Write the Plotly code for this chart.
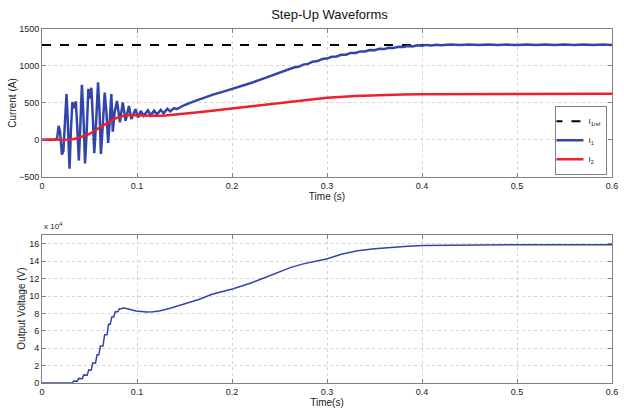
import plotly.graph_objects as go
from plotly.subplots import make_subplots

# ---- current waveforms (A) ----
t_ref = [0.0, 0.6]
i1_ref = [1285, 1285]

t_i1 = [0.0, 0.014, 0.016, 0.0175, 0.019, 0.021, 0.0225, 0.0245, 0.0258, 0.027,
        0.029, 0.0305, 0.032, 0.0338, 0.0356, 0.037, 0.0388, 0.0405, 0.042, 0.0437,
        0.0453, 0.047, 0.0488, 0.0503, 0.052, 0.0535, 0.055, 0.057, 0.059, 0.0605,
        0.062, 0.064, 0.066, 0.0678, 0.0696, 0.0713, 0.073, 0.0745, 0.0765, 0.079,
        0.082, 0.085, 0.088, 0.0915, 0.094, 0.0984, 0.101, 0.104, 0.107, 0.1115,
        0.1145, 0.118, 0.121, 0.125, 0.128, 0.132, 0.135, 0.139, 0.142, 0.146,
        0.15, 0.16, 0.17, 0.18, 0.19, 0.2, 0.21, 0.22, 0.23, 0.24, 0.25,
        0.26, 0.265, 0.27, 0.275, 0.28, 0.285, 0.29, 0.295, 0.30, 0.305,
        0.31, 0.315, 0.32, 0.325, 0.33, 0.335, 0.34, 0.345, 0.35, 0.355,
        0.36, 0.365, 0.37, 0.375, 0.38, 0.385, 0.39, 0.395, 0.40, 0.405,
        0.41, 0.415, 0.42, 0.43, 0.44, 0.45, 0.46, 0.47, 0.48, 0.49,
        0.50, 0.51, 0.52, 0.53, 0.54, 0.55, 0.56, 0.57, 0.58, 0.59, 0.6]
i1 = [0, 0, 30, 190, 110, -200, -150, 420, 620, 300,
      -390, 150, 510, 430, 520, 200, -280, 250, 745, 300,
      -320, 100, 690, 560, 705, 300, -180, 250, 780, 400,
      -190, 200, 640, 380, -40, 250, 620, 110, 380, 526,
      237, 505, 259, 459, 281, 415, 304, 392, 325, 400,
      332, 395, 345, 405, 360, 420, 385, 430, 415, 445,
      470, 520, 568, 612, 650, 688, 728, 770, 815, 860, 905,
      950, 978, 988, 1018, 1028, 1058, 1066, 1094, 1100, 1125,
      1128, 1152, 1152, 1176, 1175, 1197, 1195, 1216, 1212, 1232,
      1228, 1247, 1242, 1259, 1255, 1270, 1265, 1279, 1273, 1285,
      1278, 1288, 1280, 1290, 1282, 1289, 1282, 1289, 1282, 1289,
      1282, 1289, 1282, 1289, 1282, 1289, 1282, 1289, 1282, 1289, 1285]

t_i2 = [0.0, 0.02, 0.03, 0.035, 0.04, 0.045, 0.05, 0.055, 0.06, 0.065,
        0.07, 0.075, 0.08, 0.085, 0.09, 0.095, 0.10, 0.11, 0.12, 0.13,
        0.14, 0.15, 0.17, 0.2, 0.23, 0.25, 0.27, 0.3, 0.33, 0.35,
        0.38, 0.4, 0.45, 0.5, 0.55, 0.6]
i2 = [0, 0, 5, 15, 30, 55, 80, 115, 160, 200,
      240, 275, 305, 325, 335, 333, 330, 324, 325, 330,
      340, 352, 380, 425, 470, 500, 530, 570, 595, 605,
      614, 618, 621, 623, 624, 625]

# ---- output voltage (V) ----
t_v = [0.0, 0.022, 0.030, 0.032, 0.0335, 0.037, 0.0385, 0.0423, 0.0440, 0.0475,
       0.0493, 0.0518, 0.0535, 0.0563, 0.0580, 0.0598, 0.0615, 0.0642, 0.0659, 0.0684,
       0.0701, 0.0718, 0.0735, 0.0754, 0.0771, 0.0798, 0.0815, 0.0838, 0.0855, 0.088,
       0.093, 0.099, 0.105, 0.110, 0.117, 0.1234, 0.135, 0.151, 0.165, 0.179,
       0.2005, 0.22, 0.2346, 0.25, 0.262, 0.275, 0.29, 0.3005, 0.315, 0.332,
       0.35, 0.366, 0.385, 0.401, 0.43, 0.46, 0.5, 0.6]
v_out = [0, 0, 200, 400, 2300, 1900, 5300, 4900, 9300, 8900,
         15200, 14800, 23200, 22800, 32500, 32500, 42500, 42500, 55500, 55500,
         67500, 67500, 75800, 75800, 81800, 81800, 85300, 85300, 86500, 86000,
         84500, 82700, 81800, 81600, 82000, 82700, 86000, 91000, 96000, 102000,
         108000, 115000, 121000, 127500, 133000, 137000, 140500, 143000, 148000, 152000,
         154500, 156000, 157200, 158000, 158500, 158800, 159000, 159000]

x_ticks = [0, 0.1, 0.2, 0.3, 0.4, 0.5, 0.6]
i_ticks = [-500, 0, 500, 1000, 1500]
v_tick_labels = [0, 2, 4, 6, 8, 10, 12, 14, 16]

BLUE = "#3245a8"
RED = "#f0202a"
FONT = "Liberation Sans, Arial, sans-serif"
TXT = "#222222"

fig = make_subplots(rows=2, cols=1, vertical_spacing=0.1648)

fig.add_trace(go.Scatter(x=t_ref, y=i1_ref, mode="lines", name="I<sub>1ref</sub>",
                         line=dict(color="black", width=2, dash="dash")), row=1, col=1)
fig.add_trace(go.Scatter(x=t_i1, y=i1, mode="lines", name="I<sub>1</sub>",
                         line=dict(color=BLUE, width=2.5)), row=1, col=1)
fig.add_trace(go.Scatter(x=t_i2, y=i2, mode="lines", name="I<sub>2</sub>",
                         line=dict(color=RED, width=2.5)), row=1, col=1)
fig.add_trace(go.Scatter(x=t_v, y=v_out, mode="lines", showlegend=False,
                         line=dict(color=BLUE, width=1.5)), row=2, col=1)

axis_style = dict(showline=True, linecolor="#808080", linewidth=1, mirror="ticks",
                  ticks="inside", ticklen=4, tickcolor="#808080",
                  showgrid=True, gridcolor="#d4d4d4", griddash="dot", gridwidth=1,
                  zeroline=False, tickfont=dict(size=9, color=TXT, family=FONT))

fig.update_xaxes(range=[0, 0.6], tickvals=x_ticks, **axis_style)
fig.update_xaxes(title=dict(text="Time (s)", font=dict(size=10, family=FONT, color=TXT), standoff=2),
                 row=1, col=1)
fig.update_xaxes(title=dict(text="Time(s)", font=dict(size=10, family=FONT, color=TXT), standoff=2),
                 row=2, col=1)
fig.update_yaxes(range=[-500, 1500], tickvals=i_ticks, row=1, col=1, **axis_style)
fig.update_yaxes(range=[0, 170000], tickvals=[v * 10000 for v in v_tick_labels],
                 ticktext=[str(v) for v in v_tick_labels], row=2, col=1, **axis_style)

fig.update_layout(
    width=624, height=412,
    margin=dict(l=42, r=6, t=29, b=25),
    paper_bgcolor="white", plot_bgcolor="white",
    font=dict(family=FONT, color=TXT),
    title=dict(text="Step-Up Waveforms", x=0.528, xanchor="center", y=0.965, yanchor="middle",
               font=dict(size=13, family=FONT, color="#111")),
    legend=dict(x=0.992, xanchor="right", y=0.588, yanchor="bottom",
                bgcolor="white", bordercolor="#808080", borderwidth=1,
                font=dict(size=8, family=FONT), itemwidth=30,
                tracegroupgap=0, indentation=-8),
    annotations=[
        dict(text="Current (A)", x=-0.052, y=0.79, xref="paper", yref="paper",
             xanchor="center", yanchor="middle",
             textangle=-90, showarrow=False, font=dict(size=10, family=FONT, color=TXT)),
        dict(text="Output Voltage (V)", x=-0.035, y=0.21, xref="paper", yref="paper",
             xanchor="center", yanchor="middle",
             textangle=-90, showarrow=False, font=dict(size=10, family=FONT, color=TXT)),
        dict(text="x 10<sup>4</sup>", x=0.0, y=0.424, xref="paper", yref="paper",
             xanchor="left", yanchor="bottom", showarrow=False,
             font=dict(size=8, family=FONT, color=TXT)),
    ],
)

fig.write_html("out.html")
